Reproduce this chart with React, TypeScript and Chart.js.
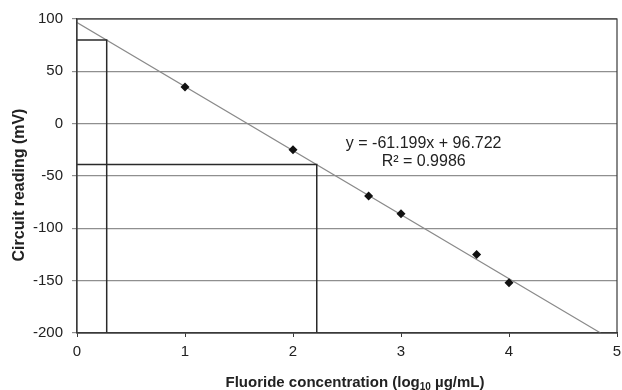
import React, { useEffect, useRef } from "react";
import { Chart, registerables } from "chart.js";

Chart.register(...registerables);

// Measured data points
const X_DATA = [1, 2, 2.7, 3, 3.7, 4];
const Y_DATA = [35, -25, -69, -86, -125, -152];

// Trendline endpoints
const TREND_X = [0, 4.848];
const TREND_Y = [96.722, -200];

// Reference (read-off) lines
const REF1_X = [0, 0.275, 0.275];
const REF1_Y = [80, 80, -200];
const REF2_X = [0, 2.22, 2.22];
const REF2_Y = [-39, -39, -200];

// Axis ranges / ticks
const X_MIN = 0;
const X_MAX = 5;
const X_STEP = 1;
const Y_MIN = -200;
const Y_MAX = 100;
const Y_STEP = 50;

// Texts
const EQUATION = "y = -61.199x + 96.722";
const R_SQUARED = "R² = 0.9986";
const EQ_POS_X = 3.21;
const EQ_POS_Y1 = -23;
const EQ_POS_Y2 = -40;
const X_TITLE_MAIN = "Fluoride concentration (log";
const X_TITLE_SUB = "10";
const X_TITLE_END = " µg/mL)";
const Y_TITLE = "Circuit reading (mV)";

const FONT = "Arial, 'Liberation Sans', Helvetica, sans-serif";
const TEXT_COLOR = "#222222";

const toXY = (xs: number[], ys: number[]) => xs.map((x, i) => ({ x, y: ys[i] }));

const overlayPlugin = {
  id: "overlay",
  afterDatasetsDraw(chart: any) {
    const { ctx, chartArea } = chart;
    ctx.save();
    ctx.strokeStyle = "#3a3a3a";
    ctx.lineWidth = 1.2;
    ctx.strokeRect(chartArea.left, chartArea.top, chartArea.right - chartArea.left, chartArea.bottom - chartArea.top);
    ctx.restore();
  },
  afterDraw(chart: any) {
    const { ctx, chartArea, scales } = chart;
    ctx.save();
    ctx.fillStyle = TEXT_COLOR;

    // Equation annotation
    ctx.font = `16px ${FONT}`;
    ctx.textAlign = "center";
    ctx.textBaseline = "alphabetic";
    const ex = scales.x.getPixelForValue(EQ_POS_X);
    ctx.fillText(EQUATION, ex, scales.y.getPixelForValue(EQ_POS_Y1));
    ctx.fillText(R_SQUARED, ex, scales.y.getPixelForValue(EQ_POS_Y2));

    // X title with subscript
    const mainFont = `bold 15px ${FONT}`;
    const subFont = `bold 10px ${FONT}`;
    ctx.textAlign = "left";
    ctx.font = mainFont;
    const w1 = ctx.measureText(X_TITLE_MAIN).width;
    const w3 = ctx.measureText(X_TITLE_END).width;
    ctx.font = subFont;
    const w2 = ctx.measureText(X_TITLE_SUB).width;
    const total = w1 + w2 + w3;
    const cx = (chartArea.left + chartArea.right) / 2 + 8;
    const baseY = 387;
    let sx = cx - total / 2;
    ctx.font = mainFont;
    ctx.fillText(X_TITLE_MAIN, sx, baseY);
    sx += w1;
    ctx.font = subFont;
    ctx.fillText(X_TITLE_SUB, sx, baseY + 3);
    sx += w2;
    ctx.font = mainFont;
    ctx.fillText(X_TITLE_END, sx, baseY);

    // Y title
    ctx.font = `bold 16px ${FONT}`;
    ctx.textAlign = "center";
    ctx.translate(24, (chartArea.top + chartArea.bottom) / 2 + 9);
    ctx.rotate(-Math.PI / 2);
    ctx.fillText(Y_TITLE, 0, 0);
    ctx.restore();
  },
};

export default function App() {
  const ref = useRef<HTMLCanvasElement | null>(null);

  useEffect(() => {
    if (!ref.current) return;
    const chart = new Chart(ref.current, {
      type: "scatter",
      data: {
        datasets: [
          {
            label: "Data",
            data: toXY(X_DATA, Y_DATA),
            pointStyle: "rectRot",
            pointRadius: 4.5,
            backgroundColor: "#111111",
            borderColor: "#111111",
            borderWidth: 0,
            showLine: false,
            order: 0,
          },
          {
            label: "Trend",
            data: toXY(TREND_X, TREND_Y),
            showLine: true,
            borderColor: "#8a8a8a",
            borderWidth: 1.2,
            pointRadius: 0,
            fill: false,
            order: 2,
          },
          {
            label: "Ref1",
            data: toXY(REF1_X, REF1_Y),
            showLine: true,
            borderColor: "#2a2a2a",
            borderWidth: 1.5,
            pointRadius: 0,
            fill: false,
            order: 1,
          },
          {
            label: "Ref2",
            data: toXY(REF2_X, REF2_Y),
            showLine: true,
            borderColor: "#2a2a2a",
            borderWidth: 1.5,
            pointRadius: 0,
            fill: false,
            order: 1,
          },
        ],
      },
      options: {
        animation: false,
        responsive: false,
        maintainAspectRatio: false,
        layout: { padding: { top: 19, right: 0, left: 0, bottom: 0 } },
        plugins: {
          legend: { display: false },
          tooltip: { enabled: false },
          title: { display: false },
        },
        scales: {
          x: {
            type: "linear",
            min: X_MIN,
            max: X_MAX,
            afterFit: (s: any) => {
              s.height = 57;
              s.paddingRight = 5;
              s.paddingLeft = 0;
            },
            ticks: {
              stepSize: X_STEP,
              padding: 6,
              color: TEXT_COLOR,
              font: { family: FONT, size: 15 },
              maxRotation: 0,
            },
            grid: {
              drawOnChartArea: false,
              drawTicks: true,
              tickLength: 4,
              color: "#3a3a3a",
            },
            border: { display: true, color: "#3a3a3a", width: 1.2 },
          },
          y: {
            type: "linear",
            min: Y_MIN,
            max: Y_MAX,
            afterFit: (s: any) => {
              s.width = 77;
            },
            ticks: {
              stepSize: Y_STEP,
              padding: 9,
              color: TEXT_COLOR,
              font: { family: FONT, size: 15 },
            },
            grid: {
              drawOnChartArea: true,
              drawTicks: true,
              tickLength: 5,
              color: "#8f8f8f",
              lineWidth: 1.2,
            },
            border: { display: true, color: "#3a3a3a", width: 1.2 },
          },
        },
      },
      plugins: [overlayPlugin],
    } as any);
    return () => chart.destroy();
  }, []);

  return (
    <div style={{ position: "fixed", left: 0, top: 0, width: 622, height: 390, background: "#ffffff" }}>
      <canvas ref={ref} width={622} height={390} style={{ display: "block" }} />
    </div>
  );
}
